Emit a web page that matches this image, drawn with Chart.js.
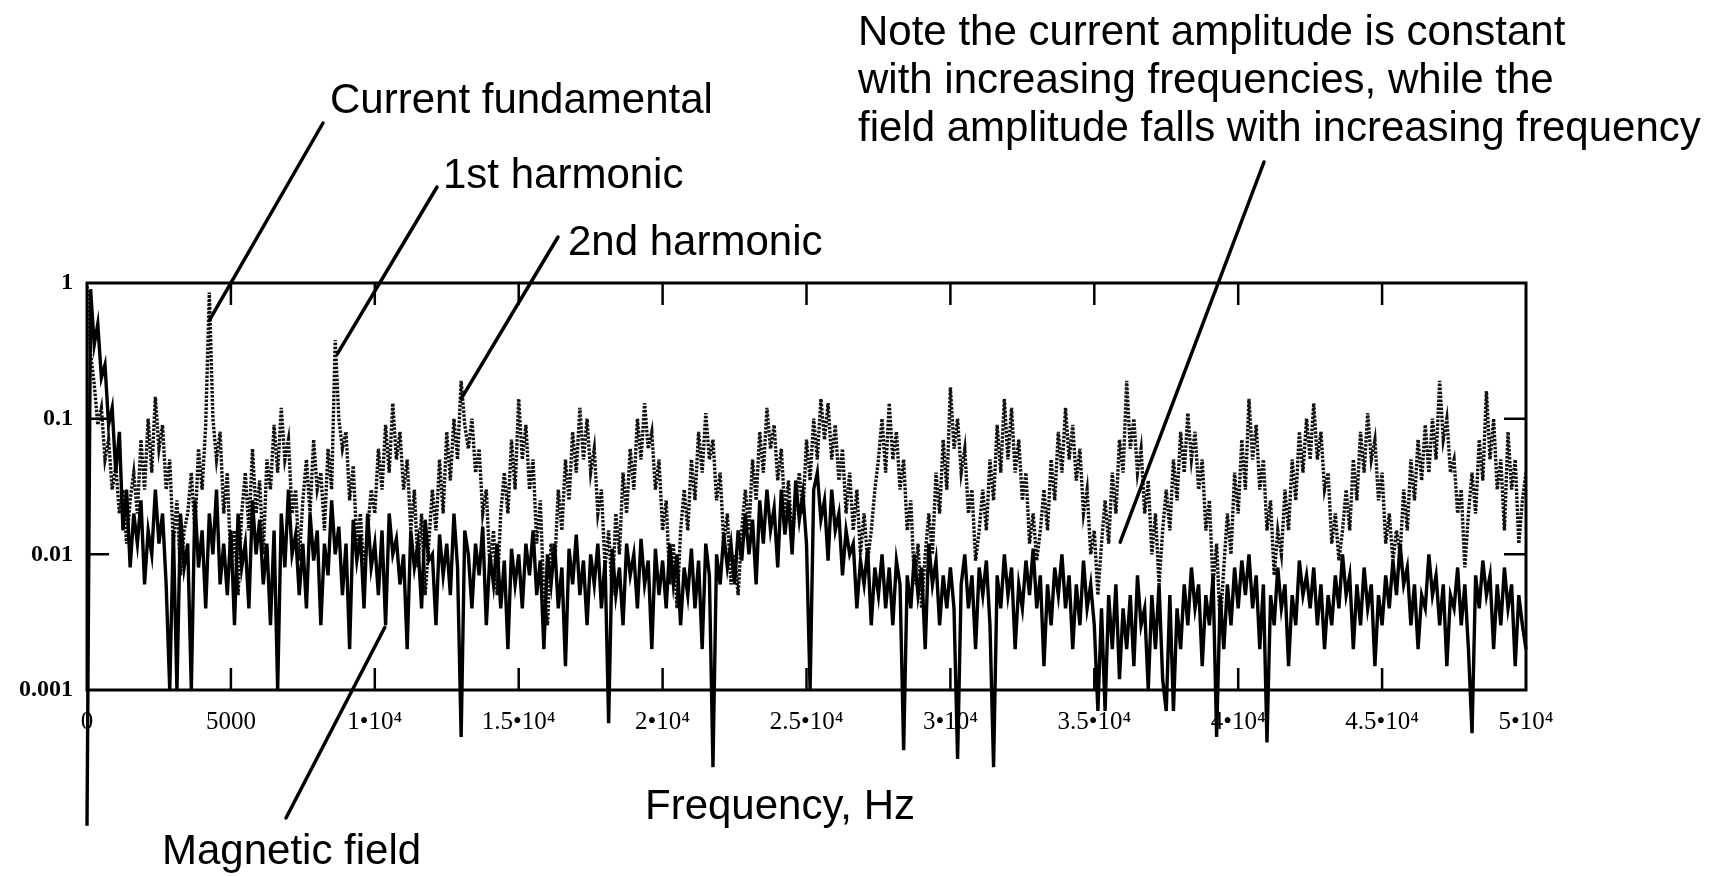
<!DOCTYPE html>
<html>
<head>
<meta charset="utf-8">
<title>Current and magnetic field spectrum</title>
<script src="https://cdn.jsdelivr.net/npm/chart.js@4.4.1/dist/chart.umd.min.js"></script>
<style>
  html, body { margin: 0; padding: 0; background: #fff; }
  canvas { display: block; }
</style>
</head>
<body>
<canvas id="spectrum" width="1728" height="876"></canvas>
<script>
// spectrum bins, one value every 125 Hz from 0 to 50 kHz
const binHz = 125;

// current amplitude (dotted trace)
const current = [
  .95, .3, .18, .09, .12, .05, .07, .03, .045, .02, .03, .012, .025, .04, .02, .07, .03, .1, .04, .145,
  .06, .09, .03, .05, .012, .025, .007, .015, .02, .04, .015, .06, .03, .09, .85, .1, .05, .08, .02, .04,
  .008, .015, .005, .02, .04, .015, .06, .02, .035, .01, .05, .03, .09, .04, .12, .05, .07, .02, .03, .009,
  .025, .05, .02, .07, .03, .04, .015, .06, .03, .38, .1, .06, .08, .025, .045, .012, .02, .007, .015, .03,
  .02, .06, .03, .09, .04, .13, .05, .08, .03, .05, .015, .03, .008, .02, .005, .012, .03, .015, .05, .02,
  .08, .035, .1, .05, .19, .09, .06, .1, .04, .06, .02, .03, .008, .015, .005, .02, .04, .02, .07, .03,
  .14, .05, .09, .03, .05, .012, .025, .005, .003, .012, .008, .03, .015, .05, .025, .08, .04, .12, .05, .1,
  .04, .06, .02, .03, .008, .015, .005, .02, .01, .04, .02, .06, .03, .1, .05, .13, .06, .08, .03, .05,
  .015, .025, .006, .012, .004, .015, .03, .015, .05, .025, .08, .04, .11, .05, .07, .025, .04, .012, .02, .006,
  .01, .005, .015, .03, .015, .05, .025, .08, .04, .12, .06, .09, .035, .06, .02, .035, .012, .025, .04, .02,
  .07, .035, .1, .05, .14, .07, .13, .05, .09, .035, .06, .02, .04, .015, .03, .01, .02, .009, .015, .03,
  .05, .1, .04, .13, .05, .08, .03, .05, .015, .025, .006, .012, .004, .01, .02, .01, .04, .02, .07, .03,
  .17, .06, .1, .04, .06, .02, .03, .009, .015, .03, .015, .05, .025, .09, .04, .14, .05, .12, .04, .07,
  .025, .04, .012, .02, .009, .015, .03, .015, .05, .025, .08, .04, .12, .05, .09, .035, .06, .02, .03, .01,
  .015, .005, .012, .025, .012, .04, .02, .07, .04, .19, .06, .1, .04, .06, .02, .035, .01, .02, .006, .015,
  .03, .015, .05, .025, .08, .04, .11, .05, .08, .03, .05, .015, .025, .006, .012, .003, .008, .02, .01, .04,
  .02, .07, .03, .14, .05, .09, .03, .05, .015, .025, .007, .015, .01, .03, .015, .05, .025, .08, .04, .1,
  .05, .13, .05, .08, .03, .04, .012, .02, .009, .015, .03, .015, .05, .025, .08, .04, .11, .05, .07, .025,
  .04, .012, .02, .009, .015, .01, .03, .015, .05, .025, .07, .035, .09, .04, .1, .05, .19, .07, .1, .04,
  .05, .02, .03, .008, .02, .04, .02, .07, .035, .16, .05, .1, .03, .05, .015, .08, .03, .05, .012, .025,
  .04
];

// magnetic field amplitude (solid trace), dips below 0.001 run off the bottom
const field = [
  .0001, .9, .35, .5, .2, .25, .09, .12, .04, .08, .015, .03, .008, .02, .012, .025, .006, .015, .01, .03,
  .012, .02, .006, .001, .015, .001, .02, .008, .012, .001, .025, .008, .015, .004, .02, .01, .03, .006, .012, .005,
  .015, .003, .02, .008, .012, .004, .025, .01, .018, .006, .012, .003, .015, .001, .02, .008, .03, .01, .014, .005,
  .012, .004, .02, .009, .015, .003, .012, .007, .025, .01, .016, .005, .012, .002, .018, .009, .014, .004, .02, .008,
  .012, .005, .015, .003, .02, .01, .013, .006, .01, .002, .015, .008, .012, .004, .018, .009, .01, .003, .014, .007,
  .012, .005, .02, .008, .00045, .015, .01, .004, .012, .007, .016, .003, .01, .006, .012, .004, .009, .002, .011, .006,
  .01, .004, .012, .007, .015, .005, .009, .002, .01, .006, .012, .004, .008, .0015, .011, .006, .014, .005, .009, .003,
  .01, .006, .012, .004, .009, .00057, .011, .005, .008, .003, .012, .007, .01, .004, .013, .006, .009, .002, .011, .005,
  .009, .004, .012, .006, .01, .003, .008, .005, .011, .004, .009, .002, .012, .007, .00027, .01, .006, .014, .008, .012,
  .006, .015, .009, .02, .01, .018, .006, .025, .012, .03, .015, .022, .008, .03, .014, .025, .01, .035, .018, .028,
  .012, .001, .03, .04, .018, .025, .009, .03, .015, .02, .007, .015, .01, .012, .004, .009, .006, .011, .003, .008,
  .005, .01, .004, .008, .003, .009, .006, .00036, .007, .004, .01, .005, .008, .002, .012, .006, .009, .003, .007, .004,
  .008, .004, .00031, .006, .01, .004, .007, .002, .008, .005, .009, .003, .00027, .007, .004, .01, .005, .008, .002, .006,
  .004, .009, .005, .011, .004, .007, .0015, .006, .003, .008, .005, .01, .004, .007, .002, .006, .003, .009, .004, .006,
  .003, .0007, .004, .0007, .005, .002, .006, .0012, .004, .002, .005, .0015, .007, .003, .004, .001, .005, .002, .006, .0012,
  .0007, .005, .0007, .004, .002, .006, .003, .008, .004, .006, .0015, .005, .003, .007, .00045, .005, .002, .006, .003, .008,
  .004, .009, .005, .01, .004, .007, .002, .006, .00041, .005, .003, .008, .004, .006, .0015, .005, .003, .009, .005, .007,
  .004, .008, .003, .006, .002, .005, .003, .007, .004, .01, .005, .007, .002, .006, .003, .008, .004, .006, .0015, .005,
  .003, .007, .004, .009, .005, .012, .006, .008, .003, .006, .002, .005, .004, .01, .005, .007, .003, .006, .0015, .005,
  .004, .008, .003, .006, .002, .00048, .007, .004, .009, .005, .007, .002, .006, .003, .008, .004, .006, .0015, .005, .003,
  .002
];

const xTicks = [0, 5000, 10000, 15000, 20000, 25000, 30000, 35000, 40000, 45000, 50000];
const yTicks = [0.001, 0.01, 0.1, 1];

// callouts: tip is in data units (Hz, amplitude), the other end in pixels
const callouts = [
  { tip: [4250, 0.53], end: [323, 123] },
  { tip: [8700, 0.3], end: [437, 187] },
  { tip: [13000, 0.14], end: [558, 237] },
  { tip: [35900, 0.0123], end: [1264, 162] },
  { tip: [10350, 0.0029], end: [286, 818] }
];
const labels = [
  { text: 'Current fundamental', x: 330, y: 113 },
  { text: '1st harmonic', x: 443, y: 188 },
  { text: '2nd harmonic', x: 568, y: 255 },
  { text: 'Note the current amplitude is constant', x: 858, y: 45 },
  { text: 'with increasing frequencies, while the', x: 858, y: 93 },
  { text: 'field amplitude falls with increasing frequency', x: 858, y: 141 },
  { text: 'Frequency, Hz', x: 645, y: 819 },
  { text: 'Magnetic field', x: 162, y: 864 }
];

const serif = '"Liberation Serif", "Times New Roman", serif';
const sans = '"Liberation Sans", Arial, Helvetica, sans-serif';

const xLabel = (v) => {
  if (v === 0 || v === 5000) return String(v);
  return (v / 10000) + '\u202210\u2074';
};

// box, inward tick marks, callout lines and the annotation text
const decorations = {
  id: 'decorations',
  afterDraw(chart) {
    const { ctx, chartArea: a } = chart;
    const x = chart.scales.x;
    const y = chart.scales.y;
    ctx.save();
    ctx.strokeStyle = '#000';
    ctx.lineWidth = 3;
    ctx.strokeRect(a.left, a.top, a.right - a.left, a.bottom - a.top);

    ctx.lineWidth = 2.5;
    ctx.beginPath();
    xTicks.slice(1, -1).forEach((v) => {
      const px = x.getPixelForValue(v);
      ctx.moveTo(px, a.top);
      ctx.lineTo(px, a.top + 22);
      ctx.moveTo(px, a.bottom);
      ctx.lineTo(px, a.bottom - 22);
    });
    yTicks.slice(1, -1).forEach((v) => {
      const py = y.getPixelForValue(v);
      ctx.moveTo(a.left, py);
      ctx.lineTo(a.left + 22, py);
      ctx.moveTo(a.right, py);
      ctx.lineTo(a.right - 22, py);
    });
    ctx.stroke();

    ctx.lineWidth = 3.5;
    ctx.lineCap = 'round';
    ctx.beginPath();
    callouts.forEach((c) => {
      ctx.moveTo(x.getPixelForValue(c.tip[0]), y.getPixelForValue(c.tip[1]));
      ctx.lineTo(c.end[0], c.end[1]);
    });
    ctx.stroke();

    ctx.fillStyle = '#000';
    ctx.font = '42px ' + sans;
    ctx.textAlign = 'left';
    ctx.textBaseline = 'alphabetic';
    labels.forEach((l) => ctx.fillText(l.text, l.x, l.y));
    ctx.restore();
  }
};

new Chart(document.getElementById('spectrum'), {
  type: 'line',
  data: {
    datasets: [
      {
        label: 'Magnetic field',
        data: field.map((v, i) => ({ x: i * binHz, y: v })),
        borderColor: '#000',
        borderWidth: 3.4,
        pointRadius: 0,
        tension: 0,
        clip: false,
        order: 1
      },
      {
        label: 'Current',
        data: current.map((v, i) => ({ x: i * binHz, y: v })),
        borderColor: '#111',
        borderWidth: 3.4,
        borderDash: [2.5, 1.5],
        pointRadius: 0,
        tension: 0,
        order: 2
      }
    ]
  },
  options: {
    responsive: false,
    devicePixelRatio: 1,
    animation: false,
    events: [],
    layout: { padding: { top: 283, right: 202, left: 0, bottom: 0 } },
    plugins: {
      legend: { display: false },
      tooltip: { enabled: false }
    },
    scales: {
      x: {
        type: 'linear',
        min: 0,
        max: 50000,
        afterBuildTicks: (s) => { s.ticks = xTicks.map((v) => ({ value: v })); },
        afterFit: (s) => { s.height = 186; },
        grid: { display: false, drawTicks: false },
        border: { display: false },
        ticks: {
          autoSkip: false,
          maxRotation: 0,
          padding: 17,
          color: '#000',
          font: { family: serif, size: 25 },
          callback: (v) => xLabel(v)
        }
      },
      y: {
        type: 'logarithmic',
        min: 0.001,
        max: 1,
        afterBuildTicks: (s) => { s.ticks = yTicks.map((v) => ({ value: v })); },
        afterFit: (s) => { s.width = 87; },
        grid: { display: false, drawTicks: false },
        border: { display: false },
        ticks: {
          padding: 14,
          color: '#000',
          font: { family: serif, size: 24, weight: 'bold' },
          callback: (v) => String(v)
        }
      }
    }
  },
  plugins: [decorations]
});
</script>
</body>
</html>
